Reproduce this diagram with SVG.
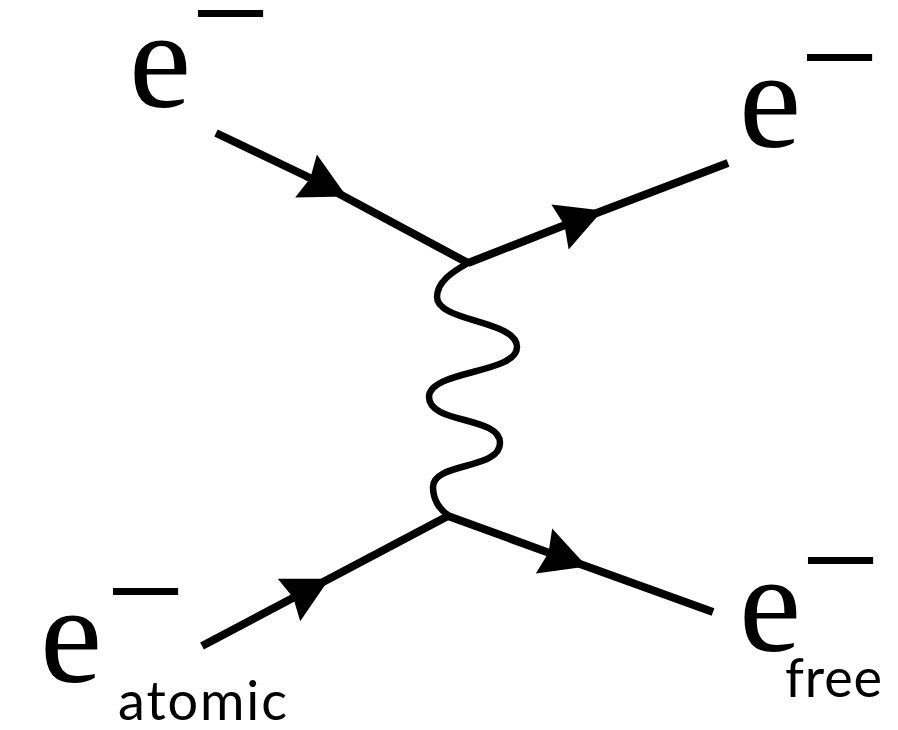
<svg xmlns="http://www.w3.org/2000/svg" width="898" height="730" viewBox="0 0 898 730">
<defs>
<style>
.fermion{fill:none;stroke:#000;stroke-width:8;stroke-linecap:butt;stroke-linejoin:round;marker-mid:url(#arr)}
.photon{fill:none;stroke:#000;stroke-width:6.5;stroke-linecap:round}
.e{font-family:'Liberation Serif','Times New Roman',serif;font-size:140px;fill:#000}
.sub{font-family:Lato,'Liberation Sans',sans-serif;font-size:54px;fill:#000}
</style>
<marker id="arr" markerUnits="userSpaceOnUse" markerWidth="60" markerHeight="60" refX="0" refY="0" viewBox="-5 -25 50 50" orient="auto" overflow="visible">
<path d="M0,-20 L38,0 L0,20 L4,0 z" fill="#000"/>
</marker>
</defs>
<rect width="898" height="730" fill="#fff"/>
<g id="connectors">
<polyline class="fermion" points="216,133 306,176 468,263"/>
<polyline class="fermion" points="468,263 560,227 728,163"/>
<polyline class="fermion" points="202,646 289,600 448,516"/>
<polyline class="fermion" points="448,516 544,551 713,612"/>
<path class="photon" d="M468,263 C452,272 437,282 437,297 C437,322 517,320 517,347 C517,374 429,370 429,397 C429,424 500,416 500,443 C500,470 433,462 433,487 C433,500 440,510 448,515"/>
</g>
<g id="e-in-top">
<text class="e" x="129" y="107">e</text>
<text class="e" x="191" y="60">−</text>
</g>
<g id="e-out-top">
<text class="e" x="739" y="147">e</text>
<text class="e" x="800" y="104">−</text>
</g>
<g id="e-atomic">
<text class="e" x="40" y="682">e</text>
<text class="e" x="106" y="638">−</text>
<text class="sub" x="118" y="720" textLength="169">atomic</text>
</g>
<g id="e-free">
<text class="e" x="739" y="651">e</text>
<text class="e" x="801" y="607">−</text>
<text class="sub" x="785" y="697" textLength="97">free</text>
</g>
</svg>
